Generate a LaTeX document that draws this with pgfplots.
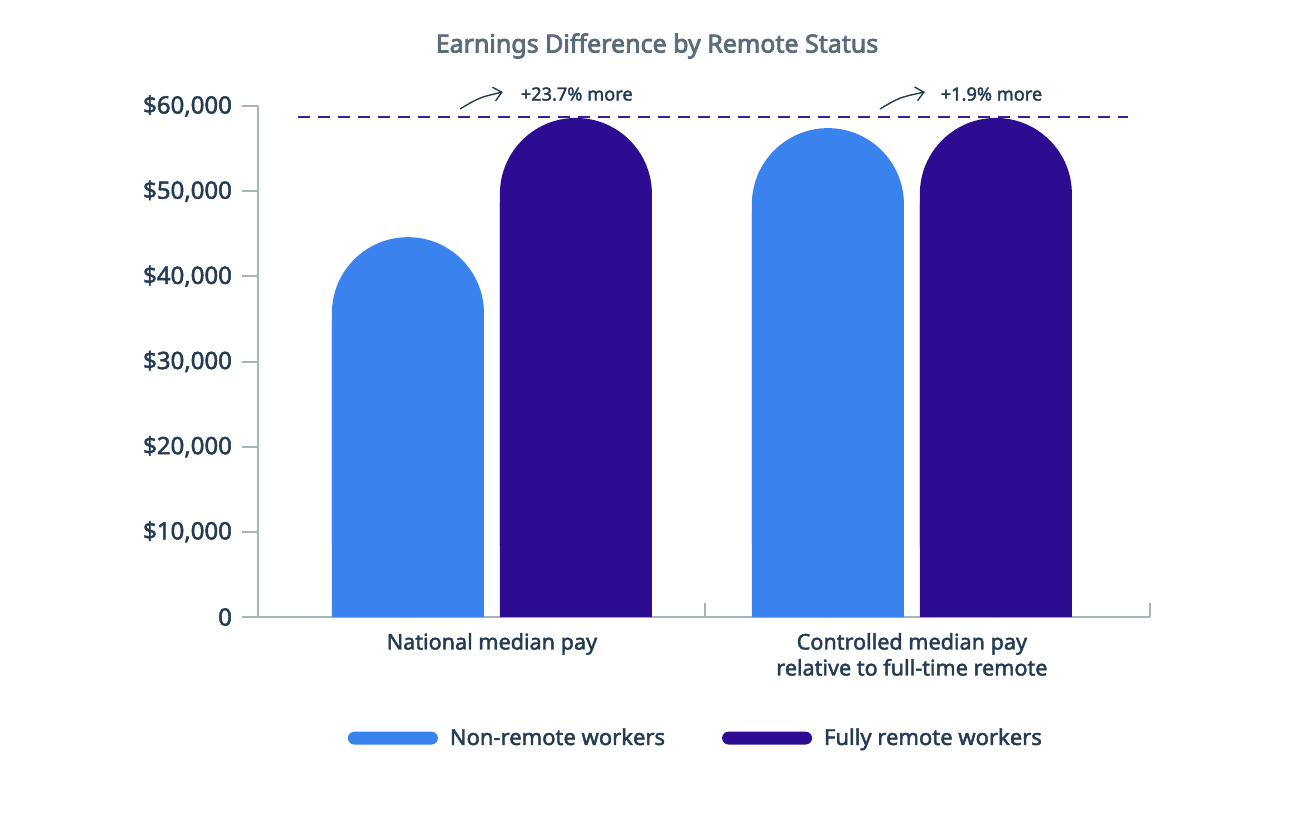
\documentclass[border=0pt]{standalone}
\usepackage{pgfplots}
\pgfplotsset{compat=1.18}
\usepackage{pgfplotstable}
\usepackage{fontspec}
\setmainfont{Noto Sans}
\newfontfamily\semib{Noto Sans}[FakeBold=2]
\newfontfamily\titlefont{Noto Sans}[FakeBold=3]
\usetikzlibrary{arrows.meta}

\definecolor{nonremote}{HTML}{3A82EE}
\definecolor{fullremote}{HTML}{2E0C92}
\definecolor{axisgray}{HTML}{A9B3BB}
\definecolor{txt}{HTML}{243B53}
\definecolor{titlegray}{HTML}{5A6B7B}
\definecolor{dashcol}{HTML}{3A1E9A}

% x: 0 = National median pay, 1 = Controlled median pay
\pgfplotstableread{
x v
0 44600
1 57400
}\nonremote
\pgfplotstableread{
x v
0 58600
1 58600
}\fullremote

\begin{document}
\begin{tikzpicture}
\useasboundingbox (0,0) rectangle (647pt,416pt);
\node[font=\titlefont\fontsize{12.5}{14}\selectfont, text=titlegray] at (328.5pt,393pt) {Earnings Difference by Remote Status};
\begin{axis}[
  at={(129pt,107.5pt)}, anchor=south west,
  scale only axis, width=446pt, height=255.5pt,
  xmin=-0.557, xmax=1.567, ymin=0, ymax=60000,
  axis x line*=bottom, axis y line*=left,
  axis line style={axisgray, line width=1pt, -},
  clip=false,
  ybar, bar width=0.362,
  xtick={0,1},
  xticklabels={National median pay, {Controlled median pay\\relative to full-time remote}},
  xticklabel style={align=center, font=\semib\fontsize{10.8}{13}\selectfont, text=txt, yshift=3.5pt},
  x tick style={draw=none},
  scaled y ticks=false,
  ytick={0,10000,20000,30000,40000,50000,60000},
  yticklabels={0,{\$10,000},{\$20,000},{\$30,000},{\$40,000},{\$50,000},{\$60,000}},
  yticklabel style={font=\semib\fontsize{12}{14}\selectfont, text=txt, xshift=-1.5pt},
  y tick style={axisgray, line width=1pt},
  tick align=outside, major tick length=8pt,
  legend columns=2,
  legend style={draw=none, at={(0.492,-0.237)}, anchor=center,
    font=\semib\fontsize{11}{13}\selectfont, text=txt,
    /tikz/every odd column/.append style={column sep=4pt},
    /tikz/every even column/.append style={column sep=26.5pt}},
  legend cell align=left,
]
% plain lower parts, so that only the tops come out round
\addplot[draw=none, fill=nonremote, bar shift=-0.2, forget plot] table[x=x, y expr=\thisrow{v}-10000] {\nonremote};
\addplot[draw=none, fill=fullremote, bar shift=0.2, forget plot] table[x=x, y expr=\thisrow{v}-10000] {\fullremote};
% rounded full bars
\addplot[draw=none, fill=nonremote, bar shift=-0.2, rounded corners=38pt,
  legend image code/.code={\fill[nonremote, rounded corners=3.2pt] (0pt,-3.2pt) rectangle (45pt,3.2pt);}]
  table[x=x, y=v] {\nonremote};
\addlegendentry{Non-remote workers}
\addplot[draw=none, fill=fullremote, bar shift=0.2, rounded corners=38pt,
  legend image code/.code={\fill[fullremote, rounded corners=3.2pt] (0pt,-3.2pt) rectangle (45pt,3.2pt);}]
  table[x=x, y=v] {\fullremote};
\addlegendentry{Fully remote workers}
% reference line at the fully remote level
\addplot[sharp plot, dashcol, line width=0.9pt, dash pattern=on 6pt off 4pt, forget plot]
  coordinates {(-0.462,58700) (1.514,58700)};
% group separator ticks on the x axis
\draw[axisgray, line width=1pt] (axis cs:0.507,0) -- ++(0pt,7pt);
\draw[axisgray, line width=1pt] (axis cs:1.567,0) -- ++(0pt,7pt);
% annotations
\draw[txt, line width=0.7pt, -{Straight Barb[length=4pt, width=7pt]}]
  (axis cs:-0.076,59650) .. controls (axis cs:-0.03,61000) .. (axis cs:0.026,61650);
\node[font=\semib\fontsize{9.1}{10}\selectfont, text=txt, anchor=west] at (axis cs:0.052,61400) {+23.7\% more};
\draw[txt, line width=0.7pt, -{Straight Barb[length=4pt, width=7pt]}]
  (axis cs:0.924,59650) .. controls (axis cs:0.97,61000) .. (axis cs:1.031,61650);
\node[font=\semib\fontsize{9.1}{10}\selectfont, text=txt, anchor=west] at (axis cs:1.052,61400) {+1.9\% more};
\end{axis}
\end{tikzpicture}
\end{document}
